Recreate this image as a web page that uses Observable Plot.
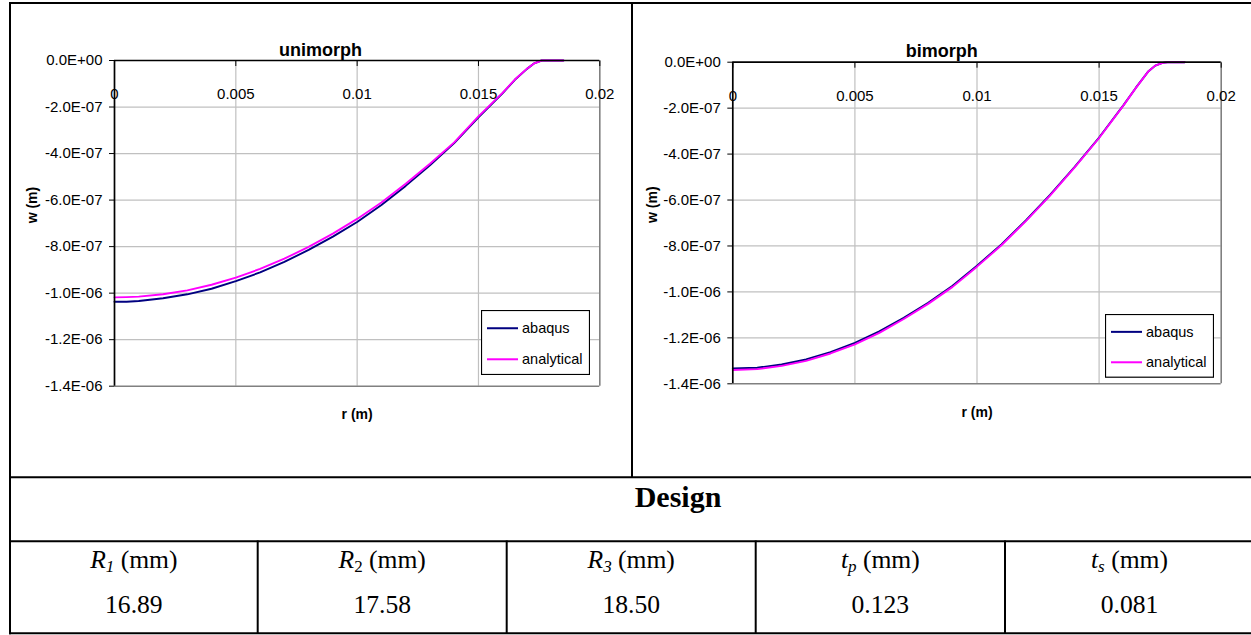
<!DOCTYPE html>
<html><head><meta charset="utf-8">
<script src="https://cdn.jsdelivr.net/npm/d3@7"></script>
<script src="https://cdn.jsdelivr.net/npm/@observablehq/plot@0.6"></script>
<style>
html,body{margin:0;padding:0;background:#fff;}
#page{position:relative;width:1251px;height:635px;overflow:hidden;background:#fff;}
.layer{position:absolute;left:0;top:0;}
.chart{position:absolute;}
</style></head>
<body>
<div id="page"></div>
<script>
// ---------------- data ----------------
const seriesNames = ["abaqus", "analytical"];
const seriesColors = ["#000080", "#ff00ff"];

// radius in mm (converted to m in the channel), deflection in micrometres (converted to m)
const uniR = [0, 0.5, 1, 2, 3, 4, 5, 6, 7, 8, 9, 10, 11, 12, 13, 14, 15, 16, 16.5, 17, 17.3, 17.6, 18.5];
const uniAbaqus = [-1.037, -1.037, -1.034, -1.022, -1.005, -0.981, -0.948, -0.911, -0.866, -0.814, -0.757, -0.694, -0.621, -0.539, -0.450, -0.355, -0.244, -0.140, -0.083, -0.036, -0.012, 0, 0];
const uniAnalytical = [-1.018, -1.017, -1.015, -1.005, -0.988, -0.964, -0.933, -0.896, -0.852, -0.801, -0.744, -0.681, -0.610, -0.530, -0.444, -0.352, -0.240, -0.138, -0.082, -0.035, -0.012, 0, 0];

const biR = [0, 1, 2, 3, 4, 5, 6, 7, 8, 9, 10, 11, 12, 13, 14, 15, 16, 16.5, 17, 17.3, 17.6, 17.8, 18.5];
const biAbaqus = [-1.333, -1.330, -1.316, -1.294, -1.262, -1.222, -1.172, -1.113, -1.047, -0.973, -0.886, -0.793, -0.689, -0.577, -0.456, -0.328, -0.187, -0.112, -0.042, -0.015, -0.003, 0, 0];
const biAnalytical = [-1.340, -1.336, -1.322, -1.300, -1.268, -1.228, -1.178, -1.118, -1.052, -0.978, -0.890, -0.797, -0.692, -0.580, -0.458, -0.330, -0.188, -0.113, -0.042, -0.015, -0.003, 0, 0];

const xTicks = [0, 0.005, 0.01, 0.015, 0.02];
const xTickLabels = ["0", "0.005", "0.01", "0.015", "0.02"];
const yTicks = [0, -2e-7, -4e-7, -6e-7, -8e-7, -1e-6, -1.2e-6, -1.4e-6];
const yTickLabels = ["0.0E+00", "-2.0E-07", "-4.0E-07", "-6.0E-07", "-8.0E-07", "-1.0E-06", "-1.2E-06", "-1.4E-06"];

const chartTitles = ["unimorph", "bimorph"];
const xTitle = "r (m)";
const yTitle = "w (m)";

const tableHeading = "Design";
const headSymbols = ["R", "R", "R", "t", "t"];
const headSubs = ["1", "2", "3", "p", "s"];
const headSubItalic = [true, false, true, true, true];
const headUnit = " (mm)";
const headValues = ["16.89", "17.58", "18.50", "0.123", "0.081"];

// ---------------- helpers ----------------
const sans = '"Liberation Sans", Arial, Helvetica, sans-serif';
const serif = '"Liberation Serif", "Times New Roman", Times, serif';

function rows(rArr, wArr) {
  return rArr.map((r, i) => ({r: r / 1000, w: wArr[i] * 1e-6}));
}

function makeChart(cfg) {
  const ab = rows(cfg.r, cfg.abaqus);
  const an = rows(cfg.r, cfg.analytical);
  return Plot.plot({
    width: cfg.width, height: cfg.height,
    marginLeft: cfg.ml, marginRight: cfg.mr, marginTop: cfg.mt, marginBottom: cfg.mb,
    x: {domain: [0, 0.02], axis: null},
    y: {domain: [-1.4e-6, 0], axis: null},
    style: {fontFamily: sans, background: "transparent", overflow: "visible", color: "#000"},
    marks: [
      Plot.gridX(xTicks.slice(1, -1), {stroke: "#c0c0c0", strokeOpacity: 1, strokeWidth: 1.2}),
      Plot.gridY(yTicks.slice(1, -1), {stroke: "#c0c0c0", strokeOpacity: 1, strokeWidth: 1.2}),
      Plot.ruleX([0.02], {stroke: "#808080", strokeWidth: 1.6}),
      Plot.ruleY([-1.4e-6], {stroke: "#808080", strokeWidth: 1.6}),
      Plot.line(ab, {x: "r", y: "w", stroke: seriesColors[0], strokeWidth: 1.9}),
      Plot.line(an, {x: "r", y: "w", stroke: seriesColors[1], strokeWidth: 1.9}),
      Plot.ruleX([0], {stroke: "#000", strokeWidth: 1.7}),
      Plot.ruleY([0], {stroke: "#000", strokeWidth: 1.7}),
      Plot.axisY({anchor: "left", ticks: yTicks, tickSize: 5, tickPadding: 7, fontSize: 15,
        tickFormat: d => yTickLabels[yTicks.indexOf(d)], label: null, stroke: "#000", fill: "#000"}),
      Plot.axisX({anchor: "top", ticks: xTicks, tickSize: -5, tickFormat: () => "", label: null, stroke: "#000"}),
      Plot.text(xTicks, {x: d => d, frameAnchor: "top", dy: cfg.xLabDy, text: d => xTickLabels[xTicks.indexOf(d)], fontSize: 15, fill: "#000"}),
      Plot.text([cfg.title], {frameAnchor: "top", dx: cfg.titleDx, dy: cfg.titleDy, fontSize: 18, fontWeight: "bold", fill: "#000"}),
      Plot.text([xTitle], {frameAnchor: "bottom", dy: cfg.xTitleDy, fontSize: 14, fontWeight: "bold", fill: "#000"}),
      Plot.text([yTitle], {frameAnchor: "left", dx: cfg.yTitleDx, rotate: -90, fontSize: 14, fontWeight: "bold", fill: "#000"})
    ]
  });
}

const page = document.getElementById("page");

// ---------------- table frame & text ----------------
const W = 1251, H = 635;
const svg = d3.select(page).append("svg").attr("class", "layer").attr("width", W).attr("height", H);
const lineColor = "#000";
const hLines = [[9, 1260, 3], [9, 1260, 477.3], [9, 1260, 541.3], [9, 1260, 633.3]];
hLines.forEach(([x1, x2, y]) => svg.append("line").attr("x1", x1).attr("x2", x2).attr("y1", y).attr("y2", y).attr("stroke", lineColor).attr("stroke-width", 2));
const vLines = [[10, 2, 634.3], [632, 2, 478], [257.7, 540.5, 634], [506.7, 540.5, 634], [755.7, 540.5, 634], [1005, 540.5, 634]];
vLines.forEach(([x, y1, y2]) => svg.append("line").attr("x1", x).attr("x2", x).attr("y1", y1).attr("y2", y2).attr("stroke", lineColor).attr("stroke-width", 2));

svg.append("text").attr("x", 678).attr("y", 507).attr("text-anchor", "middle")
  .attr("font-family", serif).attr("font-size", 30).attr("font-weight", "bold").text(tableHeading);

const colEdges = [10, 257.7, 506.7, 755.7, 1005, 1254];
headSymbols.forEach((s, i) => {
  const cx = (colEdges[i] + colEdges[i + 1]) / 2;
  const t = svg.append("text").attr("x", cx).attr("y", 568).attr("text-anchor", "middle")
    .attr("font-family", serif).attr("font-size", 25.6);
  t.append("tspan").attr("font-style", "italic").text(s);
  t.append("tspan").attr("font-size", 17).attr("dy", 4).attr("font-style", headSubItalic[i] ? "italic" : "normal").text(headSubs[i]);
  t.append("tspan").attr("dy", -4).text(headUnit);
  svg.append("text").attr("x", cx).attr("y", 612.5).attr("text-anchor", "middle")
    .attr("font-family", serif).attr("font-size", 25.6).text(headValues[i]);
});

// ---------------- charts ----------------
const cfgs = [
  {left: 11, top: 4, width: 620, height: 472, ml: 103, mr: 31.7, mt: 56, mb: 90.3,
   r: uniR, abaqus: uniAbaqus, analytical: uniAnalytical, title: chartTitles[0],
   titleDx: -36.7, titleDy: -17.3, xLabDy: 27.5, xTitleDy: 32.3, yTitleDx: -82,
   legend: {x: 481, y: 310, w: 108, h: 64}},
  {left: 633, top: 4, width: 618, height: 472, ml: 99.3, mr: 30.3, mt: 57.7, mb: 92.7,
   r: biR, abaqus: biAbaqus, analytical: biAnalytical, title: chartTitles[1],
   titleDx: -35.2, titleDy: -18.4, xLabDy: 27.8, xTitleDy: 33.4, yTitleDx: -80.6,
   legend: {x: 1104.7, y: 314, w: 108, h: 62.7}}
];

cfgs.forEach(cfg => {
  const el = makeChart(cfg);
  el.classList.add("chart");
  el.style.left = cfg.left + "px";
  el.style.top = cfg.top + "px";
  page.appendChild(el);

  // legend box
  const L = cfg.legend;
  const lg = d3.select(page).append("svg").attr("class", "chart")
    .style("left", L.x + "px").style("top", L.y + "px")
    .attr("width", L.w + 1).attr("height", L.h + 1);
  lg.append("rect").attr("x", 0.5).attr("y", 0.5).attr("width", L.w).attr("height", L.h)
    .attr("fill", "#fff").attr("stroke", "#000").attr("stroke-width", 1.2);
  const rowsY = [L.h * 0.285, L.h * 0.77];
  seriesNames.forEach((n, i) => {
    lg.append("line").attr("x1", 6).attr("x2", 37).attr("y1", rowsY[i]).attr("y2", rowsY[i])
      .attr("stroke", seriesColors[i]).attr("stroke-width", 2);
    lg.append("text").attr("x", 41).attr("y", rowsY[i]).attr("dy", "0.35em")
      .attr("font-family", sans).attr("font-size", 14.5).attr("fill", "#000").text(n);
  });
});
</script>
</body></html>
